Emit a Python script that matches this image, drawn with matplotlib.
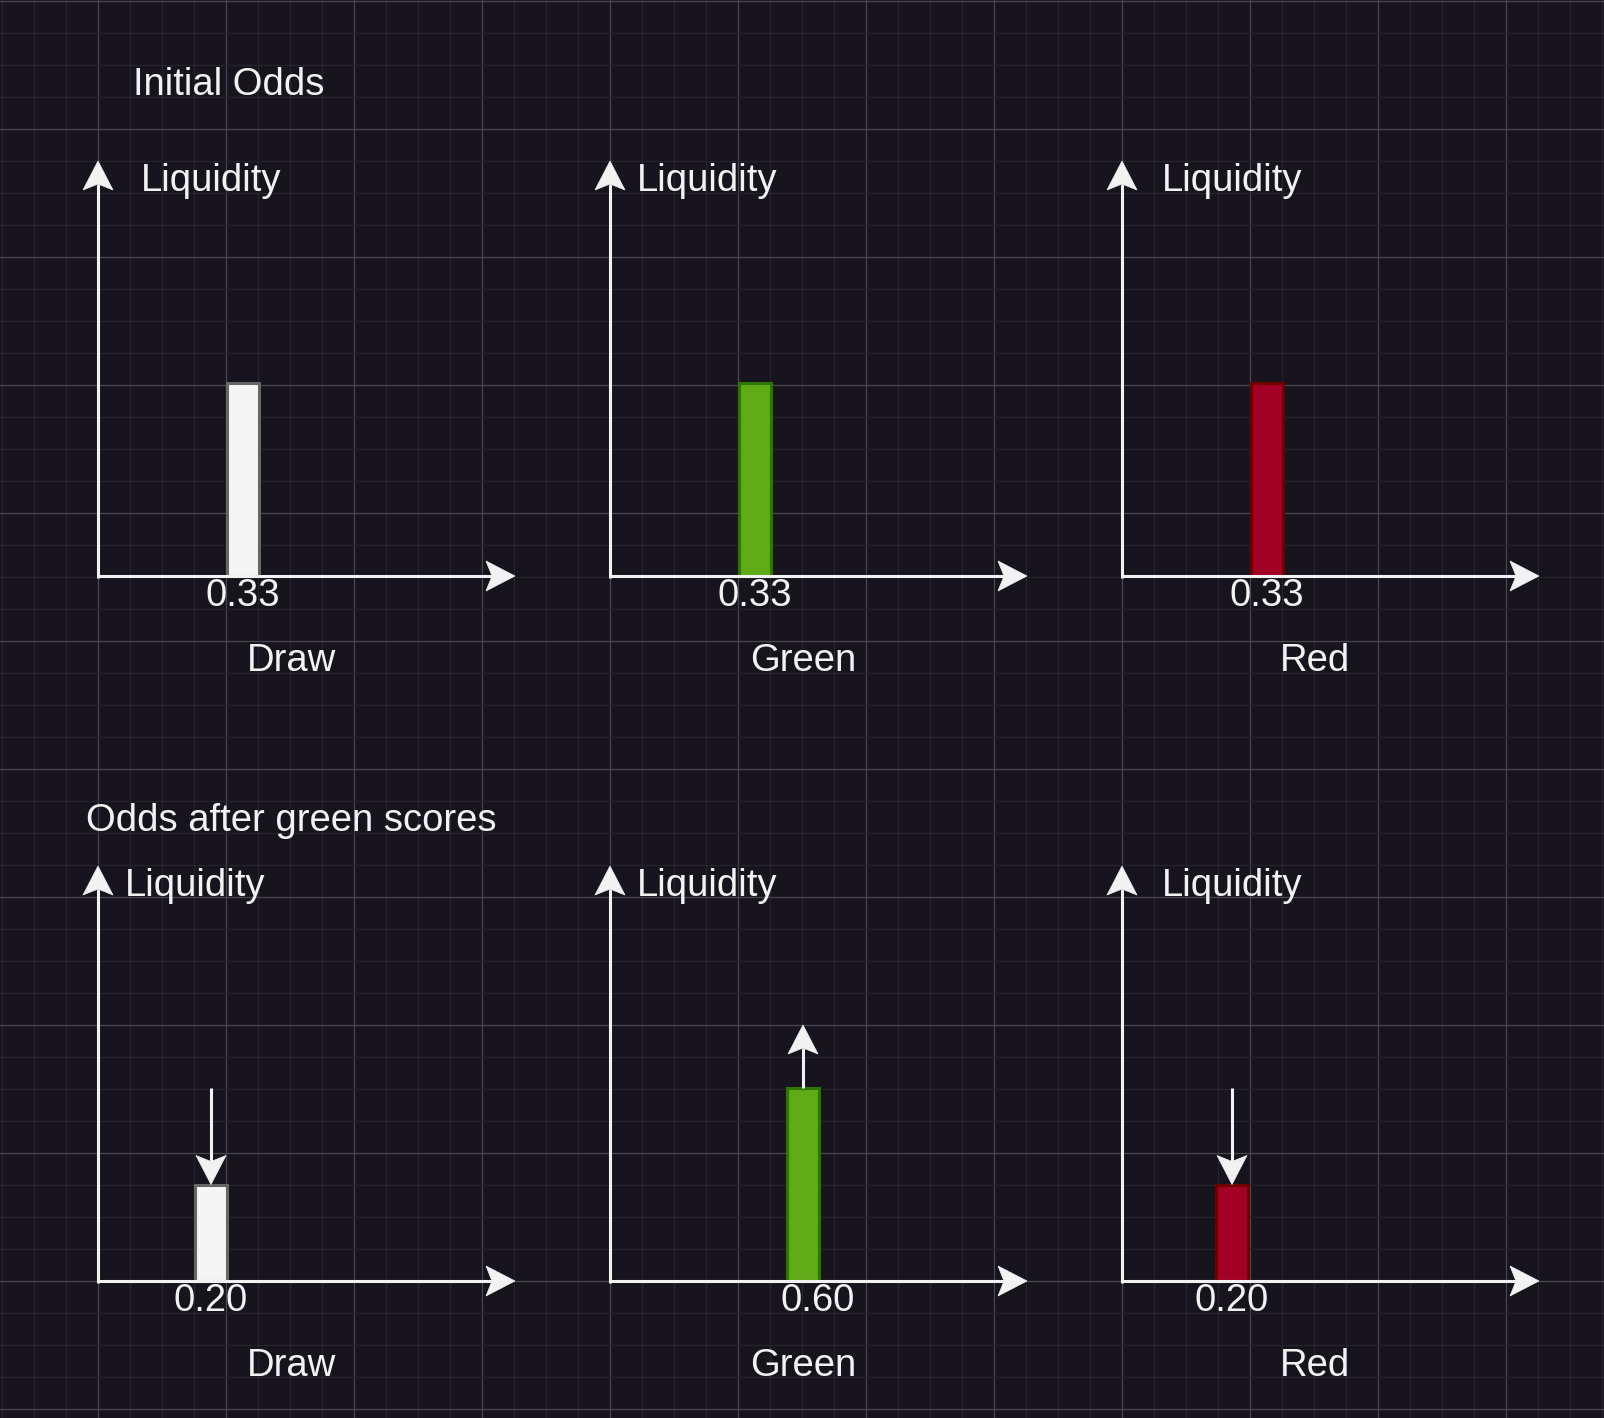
import matplotlib
matplotlib.use("Agg")
import matplotlib.pyplot as plt
from matplotlib.patches import Polygon
import numpy as np

# ---------------- data ----------------
categories = ["Draw", "Green", "Red"]
initial_odds = [0.33, 0.33, 0.33]
after_odds = [0.20, 0.60, 0.20]
initial_liquidity = [2, 2, 2]
after_liquidity = [1, 2, 1]
after_change = ["down", "up", "down"]
row_titles = ["Initial Odds", "Odds after green scores"]
y_label = "Liquidity"

# ---------------- style / layout ----------------
W, H = 1604, 1418
BG = "#18141d"
FG = "#f2f2f2"
fills = ["#f5f5f5", "#60a917", "#a20025"]
edges = ["#666666", "#2d7600", "#6f0000"]
FONT = ["Liberation Sans", "DejaVu Sans"]
FS = 27.5
TDY = 3  # text vertical nudge

panel_x0 = [98, 610, 1122]
baselines = [576, 1281]
unit_px = 96.5
axis_len_x = 417
axis_len_y = 415
bar_offsets = [[145, 145, 145], [113, 193, 110]]
label_dx = [[0, 0, 0], [0, 15, 0]]
liq_offsets = [[43, 27, 40], [27, 27, 40]]
title_pos = [(133, 82), (86, 818)]
cat_offset = 193
cat_dy = 82

fig = plt.figure(figsize=(W / 100, H / 100), dpi=100, facecolor=BG)
ax = fig.add_axes([0, 0, 1, 1])
ax.set_facecolor(BG)

# grid background
ax.set_xticks(np.arange(-30, W + 1, 128))
ax.set_xticks(np.arange(-30, W + 1, 32), minor=True)
ax.set_yticks(np.arange(0.5, H + 1, 128))
ax.set_yticks(np.arange(0.5, H + 1, 32), minor=True)
ax.grid(which="minor", color="#27232d", lw=0.9, zorder=0)
ax.grid(which="major", color="#4a4652", lw=0.9, zorder=0)
ax.tick_params(which="both", length=0, labelbottom=False, labelleft=False)
for s in ax.spines.values():
    s.set_visible(False)
ax.set_axisbelow(True)

LW = 2.2  # ~3px


def arrow(x0, y0, x1, y1, L=29, Wd=30, notch=6):
    d = np.array([x1 - x0, y1 - y0], float)
    d /= np.hypot(*d)
    n = np.array([-d[1], d[0]])
    tip = np.array([x1, y1], float)
    back = tip - L * d
    nb = tip - (L - notch) * d
    ax.plot([x0, nb[0]], [y0, nb[1]], color=FG, lw=LW, solid_capstyle="butt", zorder=4)
    ax.add_patch(Polygon([tip, back + Wd / 2 * n, nb, back - Wd / 2 * n],
                         closed=True, facecolor=FG, edgecolor=FG, lw=0.5, zorder=5))


def label(x, y, s, ha="center"):
    ax.text(x, y + TDY, s, color=FG, fontsize=FS, family=FONT, ha=ha, va="center", zorder=6)


rows = [(initial_odds, initial_liquidity, [None] * 3), (after_odds, after_liquidity, after_change)]
for r, (odds, liq, change) in enumerate(rows):
    base = baselines[r]
    label(title_pos[r][0], title_pos[r][1], row_titles[r], ha="left")
    for i, cat in enumerate(categories):
        x0 = panel_x0[i]
        # axes arrows
        arrow(x0, base + 1.5, x0, base - axis_len_y)
        arrow(x0 - 1.5, base, x0 + axis_len_x, base)
        # bar
        bx = x0 + bar_offsets[r][i]
        ax.bar(bx, -liq[i] * unit_px, bottom=base, width=32, color=fills[i],
               edgecolor=edges[i], lw=LW, zorder=3)
        top = base - liq[i] * unit_px
        # value label
        label(bx + label_dx[r][i], base + 17, f"{odds[i]:.2f}")
        # category label
        label(x0 + cat_offset, base + cat_dy, cat)
        # y label
        label(x0 + liq_offsets[r][i], base - 398, y_label, ha="left")
        # change arrows
        if change[i] == "up":
            arrow(bx, top, bx, top - 63)
        elif change[i] == "down":
            arrow(bx, top - 97, bx, top)

ax.set_xlim(0, W)
ax.set_ylim(H, 0)

fig.savefig("out.png", dpi=100, facecolor=BG)
